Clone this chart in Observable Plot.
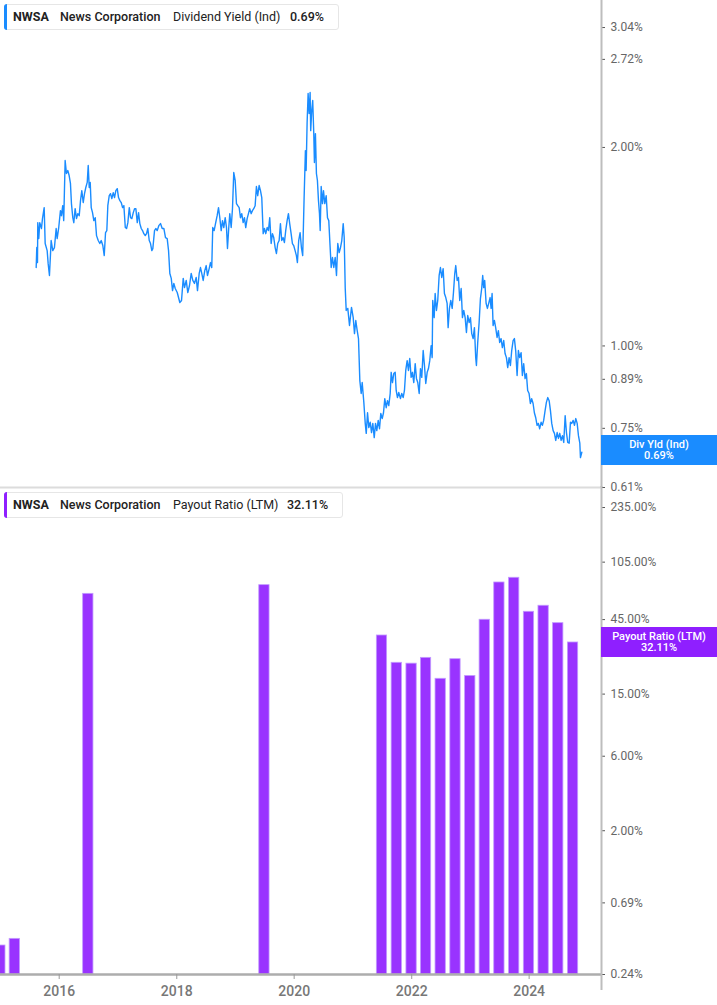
<!DOCTYPE html>
<html><head><meta charset="utf-8">
<script src="https://cdn.jsdelivr.net/npm/d3@7"></script>
<script src="https://cdn.jsdelivr.net/npm/@observablehq/plot@0.6"></script>
<style>
body{margin:0;background:#fff;}
#wrap{position:relative;width:717px;height:1005px;overflow:hidden;font-family:Roboto, sans-serif;background:#fff;}
.panel{position:absolute;left:0;}
.legend{position:absolute;left:4px;height:26px;background:#fff;border:1px solid #e6e6e6;border-radius:3px;box-sizing:border-box;font-size:12.5px;color:#222;}
.legend .bar{position:absolute;left:-1px;top:-1px;bottom:-1px;width:3px;border-radius:3px 0 0 3px;}
.legend span{position:absolute;top:5px;white-space:nowrap;line-height:14px;}
.tag{position:absolute;left:601px;width:116px;height:30px;color:#fff;font-size:11px;font-weight:500;text-align:center;line-height:11px;box-sizing:border-box;padding-top:4px;}
</style></head>
<body>
<div id="wrap">
  <div class="panel" id="topPanel" style="top:0"></div>
  <div class="panel" id="botPanel" style="top:487px"></div>
  <div class="legend" style="top:4px;width:335px">
    <div class="bar" style="background:#1a8cff"></div>
    <span style="left:8px;font-weight:700">NWSA</span>
    <span style="left:55px;font-weight:500">News Corporation</span>
    <span style="left:168px">Dividend Yield (Ind)</span>
    <span style="left:285px;font-weight:500">0.69%</span>
  </div>
  <div class="legend" style="top:492px;width:339px">
    <div class="bar" style="background:#8f1fff"></div>
    <span style="left:8px;font-weight:700">NWSA</span>
    <span style="left:55px;font-weight:500">News Corporation</span>
    <span style="left:168px">Payout Ratio (LTM)</span>
    <span style="left:282px;font-weight:500">32.11%</span>
  </div>
  <div class="tag" style="top:435px;background:#1a8cff">Div Yld (Ind)<br>0.69%</div>
  <div class="tag" style="top:627px;background:#8f1fff">Payout Ratio (LTM)<br>32.11%</div>
</div>
<script>
// Dividend yield (%), [decimal year, value]
const yieldPoints = [
[2015.608,1.315],[2015.618,1.410],[2015.630,1.338],[2015.635,1.538],[2015.652,1.455],[2015.669,1.538],[2015.698,1.507],[2015.715,1.560],[2015.744,1.621],[2015.761,1.430],[2015.795,1.395],[2015.812,1.333],[2015.834,1.279],[2015.863,1.445],[2015.890,1.395],[2015.919,1.410],[2015.948,1.507],[2015.965,1.455],[2015.992,1.512],[2016.021,1.604],[2016.038,1.576],[2016.060,1.632],[2016.077,1.549],[2016.101,1.911],[2016.123,1.826],[2016.146,1.845],[2016.169,1.813],[2016.191,1.764],[2016.208,1.644],[2016.231,1.565],[2016.248,1.538],[2016.271,1.615],[2016.294,1.560],[2016.316,1.587],[2016.340,1.576],[2016.362,1.661],[2016.384,1.720],[2016.408,1.650],[2016.430,1.702],[2016.452,1.739],[2016.476,1.770],[2016.493,1.878],[2016.510,1.739],[2016.527,1.770],[2016.544,1.621],[2016.566,1.593],[2016.588,1.549],[2016.612,1.565],[2016.634,1.470],[2016.663,1.445],[2016.690,1.430],[2016.714,1.445],[2016.741,1.420],[2016.765,1.371],[2016.787,1.485],[2016.809,1.496],[2016.826,1.632],[2016.850,1.690],[2016.872,1.702],[2016.894,1.673],[2016.918,1.708],[2016.940,1.679],[2016.962,1.720],[2016.986,1.732],[2017.008,1.679],[2017.031,1.661],[2017.054,1.650],[2017.077,1.621],[2017.099,1.632],[2017.123,1.512],[2017.145,1.507],[2017.167,1.538],[2017.191,1.621],[2017.213,1.565],[2017.235,1.560],[2017.259,1.593],[2017.281,1.615],[2017.303,1.615],[2017.327,1.538],[2017.349,1.593],[2017.371,1.533],[2017.395,1.507],[2017.417,1.496],[2017.439,1.480],[2017.463,1.470],[2017.485,1.480],[2017.507,1.507],[2017.531,1.445],[2017.553,1.430],[2017.575,1.395],[2017.592,1.405],[2017.621,1.496],[2017.643,1.507],[2017.667,1.496],[2017.694,1.522],[2017.723,1.533],[2017.752,1.507],[2017.780,1.507],[2017.808,1.460],[2017.837,1.455],[2017.860,1.395],[2017.882,1.288],[2017.906,1.266],[2017.928,1.213],[2017.950,1.244],[2017.974,1.222],[2018.008,1.205],[2018.052,1.164],
[2018.081,1.172],[2018.110,1.266],[2018.132,1.226],[2018.161,1.257],[2018.188,1.205],[2018.217,1.235],[2018.246,1.288],[2018.273,1.257],[2018.302,1.244],[2018.331,1.270],[2018.353,1.213],[2018.382,1.288],[2018.404,1.315],[2018.426,1.288],[2018.450,1.257],[2018.477,1.301],[2018.501,1.324],[2018.523,1.279],[2018.552,1.310],[2018.574,1.338],[2018.596,1.315],[2018.613,1.512],[2018.637,1.496],[2018.660,1.533],[2018.688,1.576],[2018.711,1.621],[2018.733,1.565],[2018.757,1.496],[2018.779,1.549],[2018.801,1.512],[2018.825,1.565],[2018.847,1.512],[2018.864,1.405],[2018.886,1.512],[2018.903,1.587],[2018.927,1.512],[2018.949,1.615],[2018.971,1.832],[2018.995,1.782],[2019.017,1.644],[2019.039,1.632],[2019.063,1.621],[2019.085,1.565],[2019.107,1.587],[2019.131,1.538],[2019.153,1.565],[2019.175,1.512],[2019.199,1.560],[2019.221,1.587],[2019.243,1.615],[2019.267,1.587],[2019.289,1.604],[2019.311,1.615],[2019.335,1.632],[2019.357,1.745],[2019.379,1.690],[2019.403,1.751],[2019.426,1.720],[2019.448,1.679],[2019.472,1.480],[2019.494,1.507],[2019.516,1.480],[2019.540,1.512],[2019.562,1.496],[2019.584,1.565],[2019.608,1.430],[2019.630,1.480],[2019.652,1.460],[2019.676,1.410],[2019.698,1.381],[2019.720,1.430],[2019.744,1.445],[2019.766,1.533],[2019.788,1.445],[2019.812,1.460],[2019.834,1.435],[2019.856,1.496],[2019.880,1.549],[2019.902,1.587],[2019.924,1.533],[2019.948,1.480],[2019.970,1.430],[2019.992,1.420],[2020.016,1.395],[2020.038,1.371],[2020.055,1.338],[2020.077,1.445],[2020.101,1.485],[2020.123,1.410],[2020.145,1.371],[2020.169,1.679],[2020.191,1.978],[2020.203,1.845],[2020.220,2.182],[2020.237,2.415],[2020.254,2.252],[2020.271,2.423],[2020.281,2.121],[2020.298,2.275],[2020.315,2.356],[2020.333,2.099],[2020.344,1.898],[2020.361,2.099],[2020.378,1.826],[2020.395,1.782],[2020.413,1.661],[2020.430,1.587],[2020.442,1.496],[2020.459,1.745],[2020.481,1.644],[2020.498,1.720],[2020.520,1.644],[2020.544,1.690],[2020.566,1.565],[2020.588,1.549],[2020.605,1.445],[2020.629,1.315],[2020.651,1.362],[2020.673,1.315],[2020.697,1.362],[2020.719,1.279],[2020.741,1.430],[2020.765,1.385],[2020.787,1.410],[2020.809,1.445],[2020.833,1.533],[2020.850,1.460],[2020.867,1.226],[2020.884,1.132],
[2020.911,1.140],[2020.940,1.074],[2020.974,1.144],[2021.003,1.104],[2021.025,1.044],[2021.047,1.093],[2021.071,1.055],[2021.093,1.026],[2021.116,0.886],[2021.139,0.847],[2021.156,0.880],[2021.184,0.821],[2021.208,0.763],[2021.225,0.737],[2021.247,0.792],[2021.269,0.752],[2021.293,0.766],[2021.315,0.739],[2021.337,0.763],[2021.361,0.726],[2021.383,0.763],[2021.405,0.744],[2021.429,0.771],[2021.451,0.749],[2021.473,0.790],[2021.497,0.776],[2021.519,0.792],[2021.541,0.832],[2021.565,0.806],[2021.587,0.826],[2021.609,0.812],[2021.633,0.847],[2021.650,0.912],[2021.672,0.880],[2021.694,0.908],[2021.718,0.912],[2021.735,0.856],[2021.757,0.835],[2021.779,0.850],[2021.808,0.832],[2021.830,0.847],[2021.854,0.835],[2021.876,0.856],[2021.898,0.918],[2021.922,0.950],[2021.944,0.918],[2021.966,0.957],[2021.990,0.896],[2022.012,0.912],[2022.035,0.880],[2022.059,0.940],[2022.081,0.892],[2022.103,0.880],[2022.127,0.847],[2022.149,0.924],[2022.171,0.896],[2022.195,0.984],[2022.217,0.934],[2022.239,0.877],[2022.263,0.912],[2022.285,0.924],[2022.307,0.950],[2022.331,1.001],[2022.348,0.960],[2022.358,1.172],[2022.382,1.104],[2022.399,1.201],[2022.421,1.132],[2022.443,1.172],[2022.467,1.279],[2022.489,1.315],[2022.511,1.270],[2022.535,1.310],[2022.557,1.201],[2022.580,1.184],[2022.603,1.160],[2022.620,1.066],[2022.642,1.140],[2022.665,1.172],[2022.689,1.140],[2022.711,1.205],[2022.733,1.288],[2022.750,1.324],[2022.774,1.257],[2022.796,1.270],[2022.818,1.172],[2022.842,1.222],[2022.864,1.104],[2022.886,1.132],[2022.910,1.104],[2022.932,1.048],[2022.954,1.112],[2022.978,1.085],[2023.000,1.104],[2023.022,1.044],[2023.046,1.026],[2023.068,1.066],[2023.090,0.960],[2023.102,0.934],[2023.124,1.012],[2023.148,1.085],[2023.170,1.180],[2023.192,1.222],[2023.209,1.279],[2023.226,1.226],[2023.243,1.257],[2023.267,1.160],[2023.289,1.140],[2023.311,1.160],[2023.335,1.184],[2023.352,1.140],[2023.369,1.201],[2023.386,1.074],[2023.408,1.093],[2023.430,1.066],[2023.454,1.030],[2023.476,1.055],[2023.498,1.012],[2023.522,1.026],[2023.544,0.994],[2023.567,1.019],[2023.590,0.974],[2023.613,0.960],[2023.635,0.927],[2023.659,0.960],[2023.681,0.934],[2023.703,0.984],[2023.727,1.019],[2023.749,1.026],[2023.771,0.984],[2023.795,0.902],[2023.817,0.984],[2023.839,0.960],[2023.863,0.977],[2023.885,0.902],[2023.907,0.940],[2023.931,0.892],[2023.953,0.908],[2023.975,0.856],[2023.999,0.847],[2024.021,0.818],[2024.043,0.832],[2024.067,0.818],[2024.089,0.792],[2024.111,0.779],[2024.135,0.758],[2024.157,0.763],[2024.179,0.749],[2024.203,0.766],[2024.225,0.758],[2024.247,0.771],[2024.271,0.798],[2024.293,0.821],[2024.316,0.835],[2024.340,0.826],[2024.362,0.798],[2024.384,0.763],[2024.408,0.744],[2024.430,0.737],[2024.452,0.719],[2024.476,0.739],[2024.498,0.724],[2024.520,0.737],[2024.544,0.719],[2024.566,0.731],[2024.588,0.714],[2024.612,0.784],[2024.634,0.739],[2024.656,0.714],[2024.680,0.712],[2024.702,0.766],[2024.724,0.763],[2024.748,0.771],[2024.770,0.758],[2024.792,0.776],[2024.816,0.763],[2024.838,0.731],[2024.861,0.712],[2024.872,0.677],[2024.895,0.690]
];
// Payout ratio (LTM, %), quarterly
const payoutDates = ["2014-12-31","2015-03-31","2016-06-30","2019-06-30","2021-06-30","2021-09-30","2021-12-31","2022-03-31","2022-06-30","2022-09-30","2022-12-31","2023-03-31","2023-06-30","2023-09-30","2023-12-31","2024-03-31","2024-06-30","2024-09-30"];
const payoutValues = [0.368,0.406,65.8,74.8,35.6,23.8,23.5,25.6,18.8,25.1,19.6,44.9,77.8,83.4,50.5,55.2,42.7,32.11];
// Axis ticks
const yieldTicks = [0.61,0.75,0.89,1.00,2.00,2.72,3.04];
const payoutTicks = [0.24,0.69,2,6,15,45,105,235];
const yearTicks = [2016,2018,2020,2022,2024];

const dy = t => { const Y = Math.floor(t); const a = Date.UTC(Y,0,1), b = Date.UTC(Y+1,0,1); return new Date(a + (t - Y) * (b - a)); };
const xDomain = [dy(2015.0), dy(2025.23)];
const yieldData = yieldPoints.map(([t, v]) => ({date: dy(t), value: v}));
const DAY = 864e5;
const payoutData = payoutDates.map((d, i) => ({date: new Date(d + "T00:00:00Z"), value: payoutValues[i]}));
const pct = d => d.toFixed(2) + "%";
const style = {fontFamily: "Roboto, sans-serif", fontSize: "12px", background: "transparent", overflow: "visible"};

// right-side axis: tick marks + explicit labels
const rightAxis = ticks => [
  Plot.axisY({anchor: "right", ticks, tickFormat: () => "", label: null, tickSize: 3, stroke: "#555"}),
  Plot.text(ticks, {y: d => d, text: pct, frameAnchor: "right", dx: 9, textAnchor: "start", fill: "#666", fontSize: 12})
];

const topChart = Plot.plot({
  width: 717, height: 490, marginLeft: 0, marginRight: 116, marginTop: 0, marginBottom: 3,
  style,
  x: {type: "utc", domain: xDomain, axis: null},
  y: {type: "log", domain: [0.61, 3.341], axis: null},
  marks: [
    Plot.frame({anchor: "bottom", stroke: "#dcdcdc", strokeWidth: 2}),
    Plot.lineY(yieldData, {x: "date", y: "value", stroke: "#1a8cff", strokeWidth: 1.4}),
    ...rightAxis(yieldTicks),
    Plot.ruleX([xDomain[1]], {stroke: "#bdbdbd", strokeWidth: 2})
  ]
});
document.getElementById("topPanel").appendChild(topChart);

const botChart = Plot.plot({
  width: 717, height: 518, marginLeft: 0, marginRight: 116, marginTop: 1, marginBottom: 31,
  style,
  x: {type: "utc", domain: xDomain, axis: null},
  y: {type: "log", domain: [0.24, 311.1], axis: null},
  marks: [
    Plot.rect(payoutData, {x1: d => new Date(+d.date - 32 * DAY), x2: d => new Date(+d.date + 32 * DAY), y1: 0.24, y2: "value", fill: "#9933ff", stroke: "#c29bff", strokeWidth: 0.8, clip: true}),
    Plot.ruleY([0.24], {stroke: "#adadad", strokeWidth: 2.5}),
    Plot.axisX({ticks: yearTicks.map(y => new Date(Date.UTC(y, 0, 1))), tickFormat: "%Y", label: null, tickSize: 5, tickPadding: 7, stroke: "#999", fill: "#777", fontSize: 14, fontWeight: 500}),
    ...rightAxis(payoutTicks),
    Plot.ruleX([xDomain[1]], {stroke: "#bdbdbd", strokeWidth: 2, insetTop: -2, insetBottom: -16})
  ]
});
document.getElementById("botPanel").appendChild(botChart);
</script>
</body></html>
